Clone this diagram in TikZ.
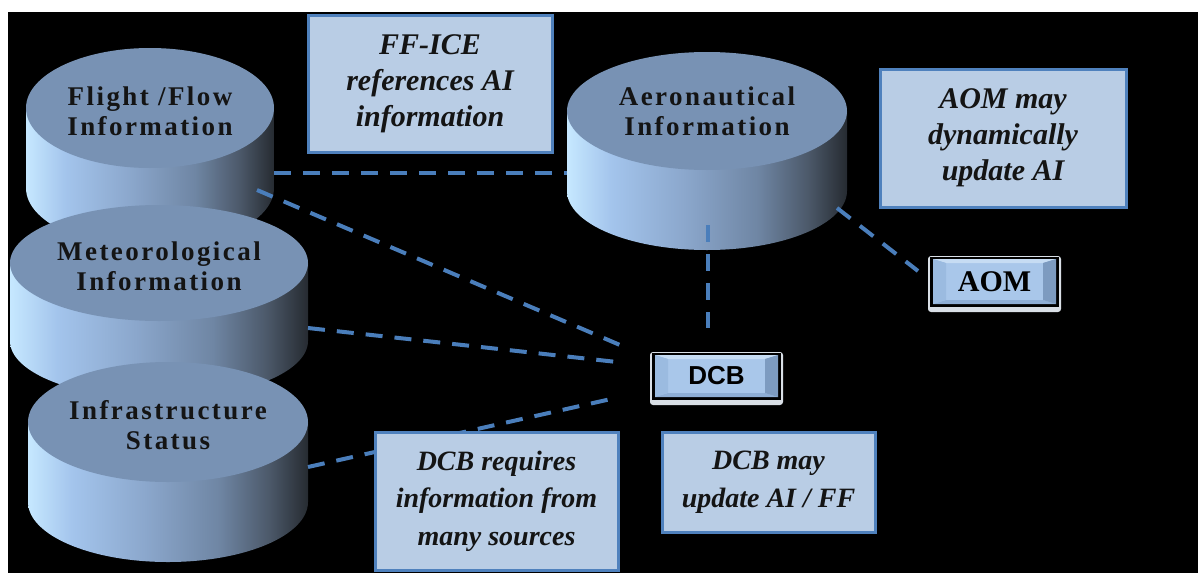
\documentclass[tikz,border=0pt]{standalone}
\usepackage{fontspec}
\setmainfont{Liberation Serif}
\newfontfamily\drumfont[LetterSpace=9]{Liberation Serif}
\newfontfamily\btnsansfont{Liberation Sans}
\usetikzlibrary{calc}

% palette
\definecolor{notefill}{HTML}{B9CDE5}
\definecolor{noteline}{HTML}{4F81BD}
\definecolor{linkblue}{HTML}{4A7EBB}
\definecolor{drumtopc}{HTML}{7892B4}
\definecolor{sideA}{HTML}{C6E8FF}
\definecolor{sideB}{HTML}{A3C4EC}
\definecolor{sideC}{HTML}{8BA7CC}
\definecolor{sideD}{HTML}{6F86A4}
\definecolor{sideE}{HTML}{4C596A}
\definecolor{sideF}{HTML}{262B31}
\definecolor{btnrim}{HTML}{D9DFE6}
\definecolor{btnface}{HTML}{A9C7EA}
\definecolor{btntop}{HTML}{C6DCF3}
\definecolor{btnleft}{HTML}{9BBBE0}
\definecolor{btnright}{HTML}{7D9BC0}
\definecolor{btnbottom}{HTML}{8EAED5}

% side of a drum: light on the left, dark on the right
\pgfdeclarehorizontalshading{drumside}{100bp}{color(0bp)=(sideA); color(25bp)=(sideA);
  color(33bp)=(sideB); color(46bp)=(sideC); color(59bp)=(sideD); color(68bp)=(sideE);
  color(75bp)=(sideF); color(100bp)=(sideF)}

% #1 centre x, #2 centre y of the top face, #3 x radius, #4 y radius, #5 height
\newcommand\drum[5]{%
  \shade[shading=drumside] ({#1-#3},#2) -- ({#1-#3},{#2+#5})
    arc[start angle=180, end angle=360, x radius=#3pt, y radius=#4pt]
    -- ({#1+#3},#2) -- cycle;
  \fill[drumtopc] (#1,#2) ellipse[x radius=#3pt, y radius=#4pt];
}

% #1 name, #2 top-left corner, #3 bottom-right corner, #4 font, #5 label
\newcommand\bevelbutton[5]{%
  \coordinate (#1-nw) at #2;
  \coordinate (#1-se) at #3;
  \fill[btnrim, rounded corners=3pt] (#1-nw) rectangle (#1-se);
  \fill[black] ($(#1-nw)+(2,1)$) rectangle ($(#1-se)+(-2,-5)$);
  \coordinate (#1-a) at ($(#1-nw)+(5,3)$);
  \coordinate (#1-b) at ($(#1-se)+(-5,-8)$);
  \coordinate (#1-c) at ($(#1-a)+(13,4)$);
  \coordinate (#1-d) at ($(#1-b)+(-13,-4)$);
  \fill[btnface] (#1-a) rectangle (#1-b);
  \fill[btntop] (#1-a) -- (#1-a -| #1-b) -- (#1-c -| #1-d) -- (#1-c) -- cycle;
  \fill[btnbottom] (#1-a |- #1-b) -- (#1-b) -- (#1-d) -- (#1-c |- #1-d) -- cycle;
  \fill[btnleft] (#1-a) -- (#1-c) -- (#1-c |- #1-d) -- (#1-a |- #1-b) -- cycle;
  \fill[btnright] (#1-a -| #1-b) -- (#1-c -| #1-d) -- (#1-d) -- (#1-b) -- cycle;
  \node[font=#4, text=black, inner sep=0pt] (#1) at ($(#1-a)!0.5!(#1-b)$) {#5};
}

\tikzset{
  drumlabel/.style={font=\drumfont\bfseries\fontsize{27}{30}\selectfont,
    text=black!92, align=center, inner sep=0pt},
  note/.style={draw=noteline, line width=3pt, fill=notefill, align=center,
    inner sep=0pt, text=black!92},
  bignote/.style={note, font=\bfseries\itshape\fontsize{30}{36}\selectfont},
  smallnote/.style={note, font=\bfseries\itshape\fontsize{28}{37.5}\selectfont},
  link/.style={draw=linkblue, line width=4pt, dash pattern=on 17pt off 12pt}
}

\begin{document}
\begin{tikzpicture}[x=1pt, y=-1pt]
\useasboundingbox (0,0) rectangle (1198,573);
\fill[white] (0,0) rectangle (1198,573);
\fill[black] (8,12) rectangle (1198,573);

% data stores
\drum{150}{108}{124}{60}{80}
\node[drumlabel] (flight) at (150,111) {Flight /Flow\\Information};
\drum{159}{263}{149}{58}{78}
\node[drumlabel] (met) at (159,266) {Meteorological\\Information};
\drum{168}{422}{140}{60}{80}
\node[drumlabel] (infra) at (168,425) {Infrastructure\\Status};
\drum{707}{111}{140}{59}{80}
\node[drumlabel] (aero) at (707,111) {Aeronautical\\Information};

% connector end points
\coordinate (flight-e) at (274,173);
\coordinate (flight-se) at (257,190);
\coordinate (met-e) at (308,328);
\coordinate (infra-e) at (308,467);
\coordinate (aero-w) at (567,173);
\coordinate (aero-s) at (708,225);
\coordinate (aero-se) at (837,208);
\coordinate (dcb-w1) at (620,345);
\coordinate (dcb-w2) at (617,362);
\coordinate (dcb-w3) at (611,399);
\coordinate (dcb-n) at (708,328);
\coordinate (aom-w) at (918,271);

\draw[link] (flight-e) -- (aero-w);
\draw[link] (flight-se) -- (dcb-w1);
\draw[link] (met-e) -- (dcb-w2);
\draw[link] (infra-e) -- (dcb-w3);
\draw[link] (aero-s) -- (dcb-n);
\draw[link] (aero-se) -- (aom-w);

% explanatory notes
\node[bignote, minimum width=244pt, minimum height=137pt] (ffice) at (430,83.5)
  {FF-ICE\\references AI\\information};
\node[bignote, minimum width=246pt, minimum height=138pt] (aomnote) at (1003,138)
  {AOM may\\dynamically\\update AI};
\node[smallnote, minimum width=243pt, minimum height=138pt] (dcbreq) at (496.5,501)
  {DCB requires\\information from\\many sources};
\node[smallnote, minimum width=213pt, minimum height=100pt] (dcbmay) at (768.5,482)
  {DCB may\\update AI / FF};

% function buttons
\bevelbutton{dcb}{(650,352)}{(783,405)}{\btnsansfont\bfseries\fontsize{26}{26}\selectfont}{DCB}
\bevelbutton{aom}{(928,256)}{(1061,312)}{\bfseries\fontsize{30}{30}\selectfont}{AOM}
\end{tikzpicture}
\end{document}
